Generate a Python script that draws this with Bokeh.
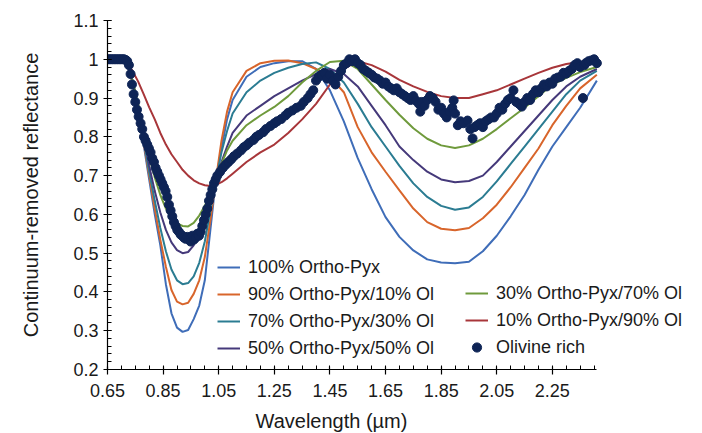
from bokeh.plotting import figure
from bokeh.models import FixedTicker, Legend, LegendItem, Title
from bokeh.embed import file_html
from bokeh.resources import INLINE

# Wavelength grid (µm) shared by the modelled mixture spectra
wavelength = [0.65, 0.70, 0.72, 0.74, 0.76, 0.78, 0.80, 0.82, 0.84, 0.86,
              0.88, 0.90, 0.92, 0.94, 0.96, 0.98, 1.00, 1.02, 1.04, 1.06,
              1.08, 1.10, 1.15, 1.20, 1.25, 1.30, 1.35, 1.40, 1.45, 1.50,
              1.55, 1.60, 1.65, 1.70, 1.75, 1.80, 1.85, 1.90, 1.95, 2.00,
              2.05, 2.10, 2.15, 2.20, 2.25, 2.30, 2.35, 2.41]

# Continuum-removed reflectance of each ortho-pyroxene / olivine mixture
opx100 = [1.0, 1.0, 0.99, 0.94, 0.87, 0.78, 0.69, 0.60, 0.52, 0.42,
          0.345, 0.308, 0.297, 0.302, 0.33, 0.365, 0.43, 0.56, 0.69, 0.77,
          0.845, 0.895, 0.955, 0.98, 0.99, 0.995, 0.995, 0.975, 0.92, 0.84,
          0.745, 0.665, 0.593, 0.542, 0.507, 0.484, 0.476, 0.474, 0.478, 0.505,
          0.545, 0.595, 0.65, 0.715, 0.775, 0.825, 0.875, 0.945]
opx90 = [1.0, 1.0, 0.99, 0.94, 0.87, 0.785, 0.70, 0.615, 0.535, 0.465,
         0.405, 0.375, 0.368, 0.372, 0.395, 0.43, 0.49, 0.585, 0.69, 0.79,
         0.865, 0.915, 0.97, 0.99, 0.996, 0.997, 0.99, 0.975, 0.955, 0.915,
         0.825, 0.76, 0.71, 0.662, 0.615, 0.58, 0.563, 0.559, 0.565, 0.59,
         0.625, 0.67, 0.72, 0.77, 0.83, 0.88, 0.925, 0.96]
opx70 = [1.0, 1.0, 0.99, 0.945, 0.875, 0.79, 0.71, 0.635, 0.565, 0.505,
         0.458, 0.43, 0.42, 0.423, 0.44, 0.475, 0.53, 0.61, 0.69, 0.76,
         0.815, 0.86, 0.915, 0.945, 0.965, 0.978, 0.988, 0.992, 0.975, 0.94,
         0.885, 0.825, 0.775, 0.725, 0.68, 0.645, 0.622, 0.612, 0.618, 0.645,
         0.685, 0.73, 0.775, 0.82, 0.865, 0.91, 0.945, 0.97]
opx50 = [1.0, 1.0, 0.99, 0.945, 0.88, 0.80, 0.725, 0.66, 0.605, 0.56,
         0.528, 0.508, 0.50, 0.503, 0.52, 0.55, 0.595, 0.645, 0.69, 0.735,
         0.775, 0.81, 0.855, 0.88, 0.905, 0.925, 0.945, 0.962, 0.975, 0.962,
         0.93, 0.88, 0.83, 0.775, 0.74, 0.71, 0.69, 0.683, 0.686, 0.70,
         0.735, 0.775, 0.815, 0.855, 0.895, 0.93, 0.955, 0.975]
opx30 = [1.0, 1.0, 0.99, 0.945, 0.885, 0.815, 0.75, 0.695, 0.65, 0.615,
         0.59, 0.577, 0.57, 0.569, 0.578, 0.597, 0.622, 0.655, 0.69, 0.73,
         0.765, 0.79, 0.83, 0.855, 0.877, 0.905, 0.94, 0.97, 0.993, 0.996,
         0.975, 0.935, 0.895, 0.857, 0.822, 0.795, 0.778, 0.771, 0.778, 0.795,
         0.82, 0.848, 0.875, 0.905, 0.935, 0.952, 0.967, 0.98]
opx10 = [1.0, 1.0, 0.99, 0.97, 0.943, 0.91, 0.876, 0.845, 0.81, 0.78,
         0.755, 0.735, 0.715, 0.70, 0.688, 0.68, 0.675, 0.673, 0.676, 0.683,
         0.693, 0.705, 0.735, 0.76, 0.78, 0.81, 0.845, 0.885, 0.935, 0.975,
         0.995, 0.985, 0.968, 0.947, 0.93, 0.916, 0.905, 0.90, 0.90, 0.91,
         0.92, 0.935, 0.95, 0.965, 0.978, 0.988, 0.993, 0.995]

# Measured spectrum of the olivine-rich sample
olivine_wl = [0.650, 0.656, 0.662, 0.668, 0.674, 0.680, 0.686, 0.692, 0.698, 0.704,
              0.710, 0.716, 0.721, 0.727, 0.733, 0.738, 0.744, 0.750, 0.756, 0.762,
              0.769, 0.775, 0.781, 0.787, 0.793, 0.799, 0.805, 0.811, 0.817, 0.823,
              0.829, 0.835, 0.841, 0.847, 0.853, 0.859, 0.865, 0.871, 0.877, 0.883,
              0.889, 0.895, 0.901, 0.907, 0.913, 0.919, 0.925, 0.931, 0.937, 0.943,
              0.949, 0.955, 0.961, 0.967, 0.973, 0.979, 0.985, 0.991, 0.997, 1.003,
              1.009, 1.015, 1.021, 1.027, 1.033, 1.039, 1.045, 1.055, 1.065, 1.075,
              1.085, 1.095, 1.105, 1.117, 1.130, 1.140, 1.150, 1.160, 1.175, 1.185,
              1.195, 1.210, 1.220, 1.236, 1.250, 1.260, 1.275, 1.290, 1.300, 1.315,
              1.330, 1.345, 1.356, 1.370, 1.380, 1.390, 1.400, 1.410, 1.420, 1.430,
              1.440, 1.450, 1.460, 1.470, 1.480, 1.490, 1.500, 1.510, 1.520, 1.530,
              1.540, 1.550, 1.560, 1.570, 1.580, 1.590, 1.600, 1.610, 1.620, 1.630,
              1.640, 1.650, 1.660, 1.670, 1.680, 1.690, 1.700, 1.710, 1.720, 1.730,
              1.740, 1.750, 1.760, 1.770, 1.775, 1.780, 1.790, 1.800, 1.810, 1.820,
              1.830, 1.840, 1.850, 1.860, 1.870, 1.880, 1.890, 1.895, 1.900, 1.910,
              1.920, 1.930, 1.945, 1.955, 1.963, 1.970, 1.980, 1.990, 2.000, 2.010,
              2.020, 2.030, 2.040, 2.050, 2.060, 2.070, 2.080, 2.090, 2.100, 2.110,
              2.120, 2.130, 2.140, 2.150, 2.160, 2.170, 2.180, 2.190, 2.200, 2.210,
              2.220, 2.230, 2.240, 2.250, 2.260, 2.270, 2.280, 2.290, 2.300, 2.310,
              2.320, 2.330, 2.340, 2.350, 2.360, 2.365, 2.370, 2.380, 2.390, 2.400,
              2.410]
olivine_refl = [1.0, 1.0, 1.0, 1.0, 1.0, 1.0, 1.0, 1.0, 1.0, 1.0,
                1.0, 0.998, 0.995, 0.985, 0.962, 0.935, 0.91, 0.89, 0.87, 0.852,
                0.835, 0.82, 0.80, 0.79, 0.78, 0.77, 0.76, 0.745, 0.735, 0.72,
                0.71, 0.70, 0.69, 0.68, 0.67, 0.66, 0.645, 0.625, 0.61, 0.595,
                0.58, 0.57, 0.56, 0.555, 0.548, 0.545, 0.54, 0.537, 0.542, 0.535,
                0.53, 0.545, 0.535, 0.54, 0.55, 0.545, 0.555, 0.57, 0.585, 0.60,
                0.615, 0.635, 0.65, 0.665, 0.68, 0.69, 0.70, 0.71, 0.72, 0.728,
                0.735, 0.742, 0.75, 0.757, 0.765, 0.773, 0.778, 0.785, 0.792, 0.80,
                0.805, 0.812, 0.82, 0.828, 0.835, 0.84, 0.846, 0.855, 0.862, 0.868,
                0.875, 0.88, 0.89, 0.90, 0.91, 0.92, 0.945, 0.955, 0.96, 0.965,
                0.95, 0.96, 0.945, 0.935, 0.955, 0.97, 0.985, 0.99, 1.0, 0.995,
                1.0, 0.99, 0.985, 0.975, 0.97, 0.965, 0.96, 0.953, 0.95, 0.945,
                0.937, 0.94, 0.93, 0.925, 0.92, 0.925, 0.915, 0.91, 0.905, 0.90,
                0.895, 0.905, 0.893, 0.885, 0.865, 0.89, 0.88, 0.895, 0.905, 0.90,
                0.89, 0.87, 0.875, 0.86, 0.85, 0.865, 0.875, 0.894, 0.86, 0.83,
                0.84, 0.835, 0.842, 0.82, 0.796, 0.825, 0.83, 0.835, 0.825, 0.84,
                0.845, 0.85, 0.85, 0.86, 0.875, 0.87, 0.885, 0.895, 0.90, 0.92,
                0.89, 0.885, 0.878, 0.89, 0.90, 0.895, 0.91, 0.92, 0.915, 0.925,
                0.935, 0.93, 0.94, 0.937, 0.95, 0.953, 0.955, 0.965, 0.963, 0.97,
                0.975, 0.985, 0.99, 0.98, 0.90, 0.985, 0.99, 0.995, 0.997, 1.0,
                0.99]

series_labels = ["100% Ortho-Pyx", "90% Ortho-Pyx/10% Ol", "70% Ortho-Pyx/30% Ol",
                 "50% Ortho-Pyx/50% Ol", "30% Ortho-Pyx/70% Ol", "10% Ortho-Pyx/90% Ol"]
series_values = [opx100, opx90, opx70, opx50, opx30, opx10]
series_colors = ["#3F6DB8", "#D8652B", "#2B7C92", "#45397A", "#6F9A3C", "#A8363A"]
olivine_label = "Olivine rich"
olivine_color = "#0E2456"

x_ticks = [0.65, 0.85, 1.05, 1.25, 1.45, 1.65, 1.85, 2.05, 2.25]
x_tick_labels = ["0.65", "0.85", "1.05", "1.25", "1.45", "1.65", "1.85", "2.05", "2.25"]
y_ticks = [0.2, 0.3, 0.4, 0.5, 0.6, 0.7, 0.8, 0.9, 1.0, 1.1]
y_tick_labels = ["0.2", "0.3", "0.4", "0.5", "0.6", "0.7", "0.8", "0.9", "1", "1.1"]
x_axis_end = 2.41

FONT = "Liberation Sans"
TEXT = "#1a1a1a"

# The frame runs on past the end of the x axis so that the right-hand
# legend column has room; the axis line itself stops at x_axis_end.
p = figure(width=702, height=433, output_backend="svg", toolbar_location=None,
           x_range=(0.65, 2.772), y_range=(0.2, 1.1),
           min_border_left=107, min_border_right=5,
           min_border_top=20, min_border_bottom=64)
p.outline_line_color = None
p.xgrid.visible = False
p.ygrid.visible = False
p.background_fill_color = "white"
p.border_fill_color = "white"
p.xaxis.bounds = (0.65, x_axis_end)

x_minor = [round(0.65 + 0.05 * i, 2) for i in range(36)]
y_minor = [round(0.2 + 0.02 * i, 2) for i in range(46)]
p.xaxis.ticker = FixedTicker(ticks=x_ticks, minor_ticks=x_minor)
p.yaxis.ticker = FixedTicker(ticks=y_ticks, minor_ticks=y_minor)
p.xaxis.major_label_overrides = dict(zip(x_ticks, x_tick_labels))
p.yaxis.major_label_overrides = dict(zip(y_ticks, y_tick_labels))

for ax in (p.xaxis, p.yaxis):
    ax.axis_line_color = "black"
    ax.axis_line_width = 1.2
    ax.major_tick_line_color = "black"
    ax.minor_tick_line_color = "black"
    ax.major_tick_line_width = 1.2
    ax.minor_tick_line_width = 1
    ax.major_label_text_font = FONT
    ax.major_label_text_font_size = "18px"
    ax.major_label_text_color = TEXT

p.xaxis.major_tick_in = 3
p.xaxis.major_tick_out = 5
p.xaxis.minor_tick_in = 4
p.xaxis.minor_tick_out = 0
p.xaxis.major_label_standoff = 9

p.yaxis.major_tick_in = 4
p.yaxis.major_tick_out = 4
p.yaxis.minor_tick_in = 4
p.yaxis.minor_tick_out = 0
p.yaxis.major_label_standoff = 5
p.yaxis.axis_label = "Continuum-removed reflectance"
p.yaxis.axis_label_text_font = FONT
p.yaxis.axis_label_text_font_size = "20px"
p.yaxis.axis_label_text_font_style = "normal"
p.yaxis.axis_label_text_color = TEXT
p.yaxis.axis_label_standoff = 28

# x-axis caption, set off to the left of the frame centre
xlabel = Title(text="Wavelength (µm)", align="left", offset=148, standoff=0,
               vertical_align="top", padding=dict(left=0, right=0, top=10, bottom=0),
               text_font=FONT, text_font_size="20px", text_font_style="normal",
               text_color=TEXT)
p.add_layout(xlabel, "below")

renderers = []
for vals, col in zip(series_values, series_colors):
    renderers.append(p.line(wavelength, vals, line_color=col, line_width=2))

dots = p.scatter(olivine_wl, olivine_refl, size=9, fill_color=olivine_color,
                 line_color=olivine_color)

legend_style = dict(border_line_alpha=0, background_fill_alpha=0, padding=0, margin=0,
                    spacing=3, glyph_width=23, glyph_height=24, label_height=24,
                    label_standoff=8, label_text_font=FONT, label_text_font_size="18px",
                    label_text_color=TEXT)

left_items = [LegendItem(label=series_labels[i], renderers=[renderers[i]]) for i in range(4)]
right_items = [LegendItem(label=series_labels[i], renderers=[renderers[i]]) for i in range(4, 6)]
right_items.append(LegendItem(label=olivine_label, renderers=[dots]))

p.add_layout(Legend(items=left_items, location=(110, 9), **legend_style))
p.add_layout(Legend(items=right_items, location=(358, 10), **legend_style))

open("out.html", "w").write(file_html(p, INLINE))
